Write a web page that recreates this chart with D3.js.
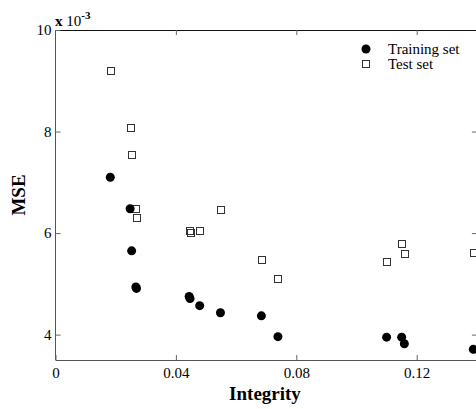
<!DOCTYPE html>
<html>
<head>
<meta charset="utf-8">
<script src="https://cdn.jsdelivr.net/npm/d3@7"></script>
<style>
  html, body { margin: 0; padding: 0; background: #fff; }
  svg { display: block; }
  text { font-family: "Liberation Serif", "Times New Roman", serif; fill: #000; }
</style>
</head>
<body>
<svg id="chart" width="476" height="409"></svg>
<script>
// Integrity of each model run (x) and its mean squared error (×10^-3)
const integrity = [0.0182, 0.0248, 0.0253, 0.0267, 0.0269, 0.0444, 0.0447, 0.0479,
                   0.0548, 0.0684, 0.0739, 0.1100, 0.1150, 0.1159, 0.1388];
const trainMSE  = [7.10, 6.48, 5.65, 4.94, 4.91, 4.75, 4.71, 4.57,
                   4.43, 4.37, 3.96, 3.95, 3.95, 3.82, 3.71];
const testMSE   = [9.21, 8.08, 7.54, 6.49, 6.31, 6.06, 6.01, 6.05,
                   6.47, 5.48, 5.10, 5.45, 5.79, 5.59, 5.61];
const xTicks = [0, 0.04, 0.08, 0.12];
const xTickLabels = ["0", "0.04", "0.08", "0.12"];
const yTicks = [4, 6, 8, 10];
const seriesNames = ["Training set", "Test set"];

const svg = d3.select("#chart");
const plotL = 55.5, plotR = 476.9, plotT = 30, plotB = 360;

const x = d3.scaleLinear().domain([0, 0.14]).range([plotL, plotR]);
const y = d3.scaleLinear().domain([3.5, 10]).range([plotB, plotT]);

// Box frame (right edge falls just past the canvas)
const frame = svg.append("g").attr("fill", "none").attr("stroke-width", 1);
frame.append("line").attr("x1", plotL).attr("x2", plotR).attr("y1", plotT + 0.5).attr("y2", plotT + 0.5).attr("stroke", "#111");
frame.append("line").attr("x1", plotL).attr("x2", plotL).attr("y1", plotT).attr("y2", plotB).attr("stroke", "#555");
frame.append("line").attr("x1", plotL).attr("x2", plotR).attr("y1", plotB + 0.5).attr("y2", plotB + 0.5).attr("stroke", "#555");
frame.append("line").attr("x1", plotR).attr("x2", plotR).attr("y1", plotT).attr("y2", plotB).attr("stroke", "#555");

// Inward ticks via d3 axes
const tickLen = 5;
const xAxisB = d3.axisBottom(x).tickValues(xTicks).tickFormat((d, i) => xTickLabels[i])
  .tickSizeInner(-tickLen).tickSizeOuter(0).tickPadding(7);
const gxb = svg.append("g").attr("transform", `translate(0,${plotB})`).call(xAxisB);
gxb.select(".domain").remove();
gxb.selectAll(".tick line").attr("stroke", "#666");
gxb.selectAll(".tick text").attr("font-size", 15).attr("font-family", "Liberation Serif, serif").attr("fill", "#000");

const xAxisT = d3.axisTop(x).tickValues(xTicks.slice(1)).tickFormat("")
  .tickSizeInner(-tickLen).tickSizeOuter(0);
const gxt = svg.append("g").attr("transform", `translate(0,${plotT})`).call(xAxisT);
gxt.select(".domain").remove();
gxt.selectAll(".tick line").attr("stroke", "#666");

const yAxisL = d3.axisLeft(y).tickValues(yTicks).tickFormat(d3.format("d"))
  .tickSizeInner(-tickLen).tickSizeOuter(0).tickPadding(4);
const gyl = svg.append("g").attr("transform", `translate(${plotL},0)`).call(yAxisL);
gyl.select(".domain").remove();
gyl.selectAll(".tick line").attr("stroke", "#666");
gyl.selectAll(".tick text").attr("font-size", 15).attr("font-family", "Liberation Serif, serif").attr("fill", "#000");

const yAxisR = d3.axisRight(y).tickValues(yTicks.slice(0, 3)).tickFormat("")
  .tickSizeInner(-tickLen).tickSizeOuter(0);
const gyr = svg.append("g").attr("transform", `translate(${plotR},0)`).call(yAxisR);
gyr.select(".domain").remove();
gyr.selectAll(".tick line").attr("stroke", "#666");

// Exponent label
const expo = svg.append("text").attr("x", 55).attr("y", 26).attr("font-size", 15);
expo.append("tspan").attr("font-weight", "bold").text("x ");
expo.append("tspan").text("10");
expo.append("tspan").attr("dy", -7).attr("font-size", 11).attr("font-weight", "bold").text("-3");

// Axis titles
svg.append("text").attr("x", 265).attr("y", 400).attr("text-anchor", "middle")
  .attr("font-size", 19).attr("font-weight", "bold").text("Integrity");
svg.append("text").attr("transform", "translate(25,195) rotate(-90)").attr("text-anchor", "middle")
  .attr("font-size", 19).attr("font-weight", "bold").text("MSE");

// Test set: hollow squares
const sq = 7;
svg.append("g").selectAll("rect").data(integrity).join("rect")
  .attr("x", (d) => Math.round(x(d) - sq / 2) + 0.5)
  .attr("y", (d, i) => Math.round(y(testMSE[i]) - sq / 2) + 0.5)
  .attr("width", sq).attr("height", sq)
  .attr("fill", "none").attr("stroke", "#333").attr("stroke-width", 1);

// Training set: filled circles
svg.append("g").selectAll("circle").data(integrity).join("circle")
  .attr("cx", (d) => x(d))
  .attr("cy", (d, i) => y(trainMSE[i]))
  .attr("r", 4.5).attr("fill", "#000");

// Legend
const lg = svg.append("g");
lg.append("circle").attr("cx", 366).attr("cy", 49).attr("r", 4.5).attr("fill", "#000");
lg.append("rect").attr("x", 362.5).attr("y", 60.5).attr("width", sq).attr("height", sq)
  .attr("fill", "none").attr("stroke", "#333");
lg.append("text").attr("x", 388).attr("y", 54).attr("font-size", 15).text(seriesNames[0]);
lg.append("text").attr("x", 388).attr("y", 69).attr("font-size", 15).text(seriesNames[1]);
</script>
</body>
</html>
